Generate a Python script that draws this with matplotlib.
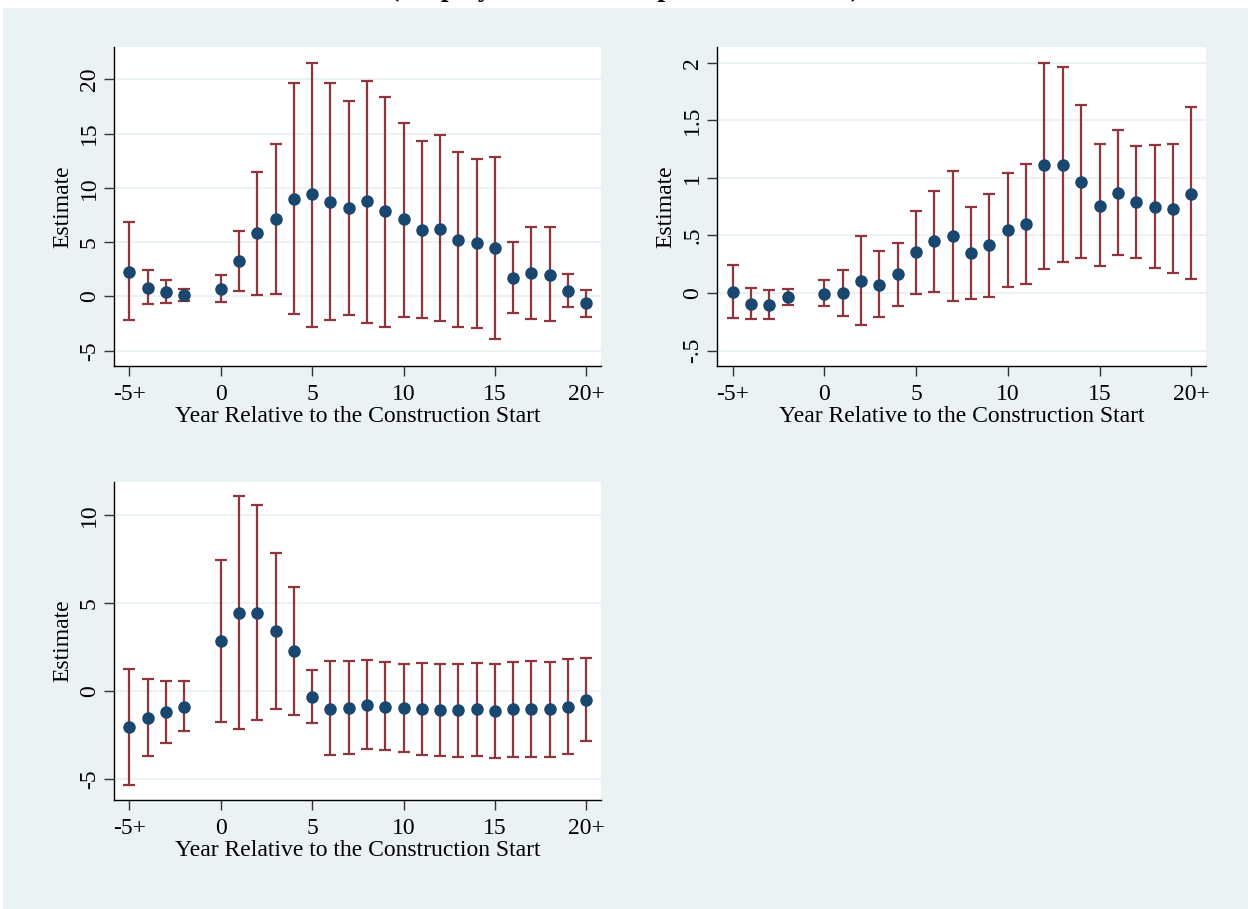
"""
Event-study coefficients around the construction start: three panels,
Stata s2color look (light blue-grey frame, white plot region).
"""
import numpy as np
import matplotlib.pyplot as plt
from matplotlib.patches import Rectangle
from matplotlib.ticker import FuncFormatter

# event time: -5+ ... -2, 0 ... 20+ (t = -1 is the omitted reference year)
years = [-5, -4, -3, -2, 0, 1, 2, 3, 4, 5, 6, 7, 8, 9, 10,
         11, 12, 13, 14, 15, 16, 17, 18, 19, 20]

est_a = [2.25, 0.8, 0.4, 0.1, 0.68, 3.3, 5.8, 7.1, 8.98, 9.45, 8.68, 8.12, 8.77,
         7.85, 7.1, 6.1, 6.25, 5.23, 4.9, 4.5, 1.72, 2.18, 2.0, 0.49, -0.62]
hi_a = [6.83, 2.4, 1.54, 0.7, 1.94, 6.0, 11.48, 14.03, 19.63, 21.54, 19.63, 18.0,
        19.88, 18.4, 16.0, 14.34, 14.86, 13.26, 12.65, 12.8, 4.98, 6.37, 6.37, 2.1, 0.62]
lo_a = [-2.2, -0.7, -0.62, -0.43, -0.52, 0.52, 0.12, 0.25, -1.63, -2.77, -2.2, -1.75,
        -2.4, -2.77, -1.85, -2.0, -2.3, -2.77, -2.95, -3.9, -1.54, -2.12, -2.3, -0.98, -1.9]

est_b = [0.012, -0.095, -0.104, -0.032, -0.009, 0.0, 0.107, 0.07, 0.162, 0.353, 0.449,
         0.492, 0.344, 0.414, 0.547, 0.602, 1.108, 1.108, 0.966, 0.758, 0.868, 0.79,
         0.749, 0.729, 0.862]
hi_b = [0.24, 0.046, 0.023, 0.038, 0.113, 0.2, 0.495, 0.365, 0.437, 0.715, 0.888,
        1.056, 0.749, 0.862, 1.039, 1.12, 2.0, 1.959, 1.635, 1.293, 1.415, 1.276,
        1.285, 1.293, 1.617]
lo_b = [-0.214, -0.226, -0.226, -0.104, -0.11, -0.2, -0.278, -0.208, -0.11, -0.009,
        0.012, -0.067, -0.049, -0.032, 0.055, 0.081, 0.205, 0.266, 0.301, 0.231,
        0.327, 0.301, 0.214, 0.171, 0.119]

est_c = [-2.03, -1.52, -1.17, -0.89, 2.82, 4.43, 4.43, 3.41, 2.25, -0.34, -1.0, -0.95,
         -0.8, -0.89, -0.95, -1.0, -1.1, -1.1, -1.04, -1.16, -1.04, -1.04, -1.04, -0.89, -0.49]
hi_c = [1.23, 0.66, 0.55, 0.55, 7.44, 11.06, 10.55, 7.84, 5.89, 1.17, 1.69, 1.69,
        1.74, 1.63, 1.53, 1.59, 1.53, 1.53, 1.59, 1.53, 1.63, 1.69, 1.63, 1.84, 1.875]
lo_c = [-5.32, -3.69, -2.95, -2.25, -1.76, -2.14, -1.63, -1.02, -1.36, -1.82, -3.66,
        -3.6, -3.3, -3.35, -3.47, -3.66, -3.69, -3.75, -3.69, -3.81, -3.75, -3.75,
        -3.75, -3.6, -2.84]

x_ticks = [-5, 0, 5, 10, 15, 20]
x_ticklabels = ["-5+", "0", "5", "10", "15", "20+"]

BG = "#eaf2f3"
NAVY = "#1a476f"
MAROON = "#90353b"
FS = 17

plt.rcParams["font.family"] = ["Liberation Serif", "DejaVu Serif"]


def stata_num(v, _pos=None):
    s = f"{v:g}"
    if s.startswith("0.") and len(s) > 2:
        s = s[1:]
    elif s.startswith("-0."):
        s = "-" + s[2:]
    return s


def event_panel(ax, est, lo, hi, yticks, ylim):
    ax.set_facecolor("white")
    est = np.asarray(est)
    lo = np.asarray(lo)
    hi = np.asarray(hi)
    ax.errorbar(years, est, yerr=[est - lo, hi - est], fmt="none",
                ecolor=MAROON, elinewidth=1.6, capsize=4.5, capthick=1.6, zorder=2)
    ax.plot(years, est, "o", color=NAVY, markersize=8, zorder=3)
    ax.set_xlim(-5.85, 20.8)
    ax.set_ylim(*ylim)
    ax.set_yticks(yticks)
    ax.yaxis.set_major_formatter(FuncFormatter(stata_num))
    ax.yaxis.grid(True, color=BG, linewidth=1.5)
    ax.set_axisbelow(True)
    ax.set_xticks(x_ticks)
    ax.set_xticklabels(x_ticklabels)
    for side in ("top", "right"):
        ax.spines[side].set_visible(False)
    for side in ("left", "bottom"):
        ax.spines[side].set_color("#000000")
        ax.spines[side].set_linewidth(1.0)
    ax.tick_params(axis="both", direction="out", length=7, width=1.0,
                   color="#333333", labelsize=FS)
    ax.tick_params(axis="x", pad=6)
    ax.tick_params(axis="y", pad=3)
    for lab in ax.get_yticklabels():
        lab.set_rotation(90)
        lab.set_va("center")
    ax.set_xlabel("Year Relative to the Construction Start", fontsize=FS, labelpad=1)
    ax.set_ylabel("Estimate", fontsize=FS, labelpad=4)


fig = plt.figure(figsize=(12.48, 9.09), dpi=100, facecolor=BG)

# white strips at the page edge, with the cropped title running through the top one
fig.patches.append(Rectangle((0, 1 - 8 / 909), 1, 8 / 909, transform=fig.transFigure,
                             facecolor="white", edgecolor="none", zorder=0))
fig.patches.append(Rectangle((0, 0), 3 / 1248, 1, transform=fig.transFigure,
                             facecolor="white", edgecolor="none", zorder=0))
fig.text(625 / 1248, 1 + 3.5 / 909, "(Employment in Transportation Sector)",
         ha="center", va="baseline", fontsize=20, fontweight="bold")

ax1 = fig.add_axes([0.0913, 0.5974, 0.3902, 0.3509])
ax2 = fig.add_axes([0.5745, 0.5974, 0.3918, 0.3509])
ax3 = fig.add_axes([0.0913, 0.1199, 0.3902, 0.3498])

event_panel(ax1, est_a, lo_a, hi_a, [-5, 0, 5, 10, 15, 20], (-6.4, 22.97))
event_panel(ax2, est_b, lo_b, hi_b, [-0.5, 0, 0.5, 1, 1.5, 2], (-0.633, 2.136))
event_panel(ax3, est_c, lo_c, hi_c, [-5, 0, 5, 10], (-6.19, 11.875))

fig.savefig("out.png", dpi=100, facecolor=BG)
